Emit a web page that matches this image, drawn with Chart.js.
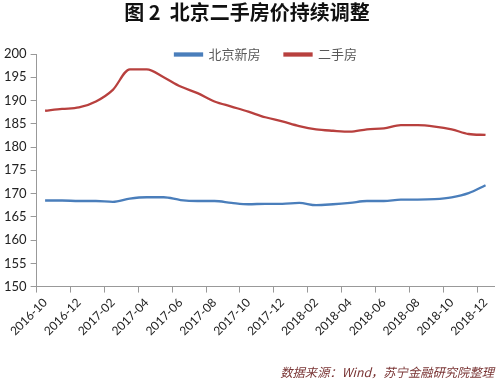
<!DOCTYPE html>
<html>
<head>
<meta charset="utf-8">
<script src="https://cdn.jsdelivr.net/npm/chart.js@4"></script>
<style>
  html,body{margin:0;padding:0;background:#fff;}
  #wrap{width:499px;height:380px;}
</style>
</head>
<body>
<div id="wrap"><canvas id="cht" width="499" height="380"></canvas></div>
<script>
// 月份
const months=["2016-10","2016-11","2016-12","2017-01","2017-02","2017-03","2017-04","2017-05","2017-06","2017-07","2017-08","2017-09","2017-10","2017-11","2017-12","2018-01","2018-02","2018-03","2018-04","2018-05","2018-06","2018-07","2018-08","2018-09","2018-10","2018-11","2018-12"];
const xinFang=[168.5,168.5,168.4,168.4,168.2,168.9,169.2,169.2,168.6,168.4,168.4,168.0,167.7,167.8,167.8,168.0,167.5,167.7,168.0,168.4,168.4,168.7,168.7,168.8,169.2,170.1,171.8];
const ershouFang=[187.8,188.2,188.5,189.8,192.3,196.7,196.7,195.0,193.0,191.6,189.8,188.7,187.6,186.4,185.5,184.5,183.8,183.5,183.3,183.8,184.0,184.7,184.7,184.4,183.8,182.8,182.6];
const yTicks=[150,155,160,165,170,175,180,185,190,195,200];

const blue='#4a7ebb', red='#b8403e';

// 图例往右挪一点，框往下放宽，让图例压在绘图区上沿
const moveLegend={
  id:'moveLegend',
  afterLayout(chart){
    const lg=chart.legend;
    if(!lg) return;
    const dx=19;
    lg.left+=dx; lg.right+=dx;
    lg.top-=6;
    lg.bottom+=20;
  }
};

new Chart("cht",{
  type:"line",
  data:{
    labels:months,
    datasets:[
      {label:"北京新房",data:xinFang,borderColor:blue,backgroundColor:blue,borderWidth:2.3,pointRadius:0,cubicInterpolationMode:'monotone'},
      {label:"二手房",data:ershouFang,borderColor:red,backgroundColor:red,borderWidth:2.3,pointRadius:0,cubicInterpolationMode:'monotone'}
    ]
  },
  options:{
    responsive:false,
    animation:false,
    layout:{padding:{left:0,right:5,top:0,bottom:0}},
    plugins:{
      title:{
        display:true,
        text:"图 2  北京二手房价持续调整",
        color:"#111",
        font:{family:"'Noto Sans CJK SC'",size:20,weight:"bold"},
        padding:{top:0,bottom:6}
      },
      legend:{
        position:"top",
        maxHeight:24,
        labels:{
          boxWidth:27,boxHeight:2,
          color:"#595959",
          font:{family:"'Noto Sans CJK SC'",size:13},
          padding:24
        }
      },
      subtitle:{
        display:true,
        position:"bottom",
        align:"end",
        text:"数据来源：Wind，苏宁金融研究院整理",
        color:"#7a3535",
        font:{family:"'Noto Sans CJK SC'",size:12.3,style:"italic"},
        padding:{top:23.8,bottom:0}
      },
      tooltip:{enabled:false}
    },
    scales:{
      x:{
        offset:true,
        grid:{
          offset:true,
          drawOnChartArea:false,
          tickLength:6,
          tickColor:ctx=>ctx.index%2===0?'#999':'rgba(0,0,0,0)'
        },
        border:{color:'#999'},
        ticks:{
          autoSkip:false,
          minRotation:45,maxRotation:45,
          color:'#222',
          font:{family:"Lato",size:12},
          callback:function(v,i){return i%2===0?months[i]:'';}
        }
      },
      y:{
        min:150,max:200,
        afterBuildTicks:ax=>{ax.ticks=yTicks.map(v=>({value:v}));},
        grid:{drawOnChartArea:false,tickLength:6,tickColor:'#999'},
        border:{color:'#999'},
        ticks:{color:'#222',font:{family:"Lato",size:13},padding:4}
      }
    }
  },
  plugins:[moveLegend]
});
</script>
</body>
</html>
